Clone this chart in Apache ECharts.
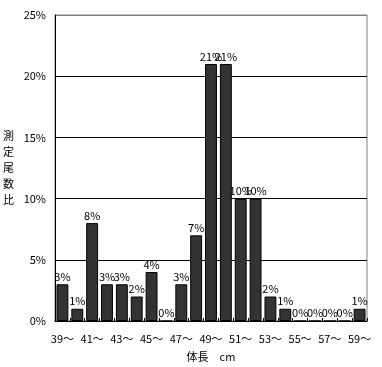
<!DOCTYPE html>
<html><head><meta charset="utf-8">
<script src="https://cdn.jsdelivr.net/npm/echarts@6/dist/echarts.min.js"></script>
<style>html,body{margin:0;padding:0;background:#fff}#c{width:382px;height:367px}</style>
</head><body><div id="c"></div>
<script>
const categories = ['39〜','40〜','41〜','42〜','43〜','44〜','45〜','46〜','47〜','48〜','49〜','50〜','51〜','52〜','53〜','54〜','55〜','56〜','57〜','58〜','59〜'];
const values = [3,1,8,3,3,2,4,0,3,7,21,21,10,10,2,1,0,0,0,0,1];
const yTicks = [0,5,10,15,20,25];
const FONT = '"Noto Sans CJK JP", sans-serif';
const chart = echarts.init(document.getElementById('c'), null, {renderer:'canvas'});
chart.setOption({
  animation:false,
  backgroundColor:'#fff',
  grid:{left:53,right:15,top:15,bottom:45,show:true,borderColor:'#808080',borderWidth:1},
  xAxis:{
    type:'category', data:categories,
    axisLine:{lineStyle:{color:'#000',width:1}},
    axisTick:{show:true,inside:true,length:3,interval:0,lineStyle:{color:'#000'}},
    axisLabel:{interval:1,color:'#000',fontFamily:FONT,fontSize:11,margin:12},
    name:'体長　cm', nameLocation:'middle', nameGap:30,
    nameTextStyle:{color:'#000',fontFamily:FONT,fontSize:11}
  },
  yAxis:{
    type:'value', min:yTicks[0], max:yTicks[yTicks.length-1], interval:5,
    axisLine:{show:true,lineStyle:{color:'#000'}},
    axisTick:{show:false},
    axisLabel:{formatter:'{value}%',color:'#000',fontFamily:FONT,fontSize:11,margin:9},
    splitLine:{show:true,lineStyle:{color:['#000','#000','#000','#000','#000','#808080'],width:1}},
    name:'測\n定\n尾\n数\n比', nameLocation:'middle', nameRotate:0, nameGap:41,
    nameTextStyle:{color:'#000',fontFamily:FONT,fontSize:11,lineHeight:16}
  },
  series:[{
    type:'bar', data:values, barCategoryGap:'20%',
    itemStyle:{color:'#333333',borderColor:'#000',borderWidth:1},
    label:{show:true,position:'top',distance:2,formatter:'{c}%',color:'#000',fontFamily:FONT,fontSize:11}
  }]
});
</script></body></html>
